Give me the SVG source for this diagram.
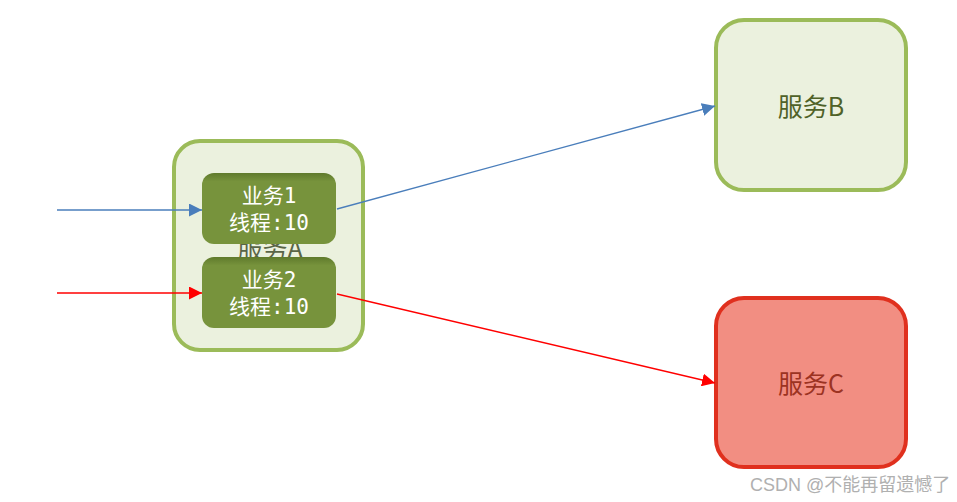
<svg xmlns="http://www.w3.org/2000/svg" width="957" height="502" viewBox="0 0 957 502">
<defs>
<marker id="ab" viewBox="0 0 10 10" refX="10" refY="5" markerWidth="13" markerHeight="13" markerUnits="userSpaceOnUse" orient="auto"><path d="M0,0 L10,5 L0,10 Z" fill="#4a7ebb"/></marker>
<marker id="ar" viewBox="0 0 10 10" refX="10" refY="5" markerWidth="13" markerHeight="13" markerUnits="userSpaceOnUse" orient="auto"><path d="M0,0 L10,5 L0,10 Z" fill="#ff0000"/></marker>
<linearGradient id="gb" x1="0" y1="0" x2="0" y2="1"><stop offset="0" stop-color="#5f7a2c"/><stop offset="0.12" stop-color="#77933c"/><stop offset="1" stop-color="#77933c"/></linearGradient>
</defs>
<style>
.svc{fill:#ebf1de;stroke:#9bbb59;stroke-width:4}
.svcc{fill:#f28e82;stroke:#e0301e;stroke-width:4}
.biz{fill:url(#gb)}
.t{font-family:"Noto Sans CJK SC","Noto Sans",sans-serif;font-size:25px;text-anchor:middle}
.bt{font-family:"DejaVu Sans Mono","Noto Sans CJK SC",monospace;font-size:21px;fill:#ffffff;text-anchor:middle}
.wm{font-family:"Liberation Sans","Noto Sans CJK SC",sans-serif;font-size:18px;fill:#b0b0b0}
</style>
<g id="serviceA">
<rect class="svc" x="174" y="141" width="189" height="209" rx="26"/>
<text class="t" x="270" y="258" fill="#5a6547" font-size="22">服务A</text>
</g>
<g id="biz1">
<rect class="biz" x="202" y="173" width="134" height="71" rx="12"/>
<text class="bt" x="269" y="203">业务1</text>
<text class="bt" x="269" y="230">线程:10</text>
</g>
<g id="biz2">
<rect class="biz" x="202" y="257" width="134" height="71" rx="12"/>
<text class="bt" x="269" y="287">业务2</text>
<text class="bt" x="269" y="314">线程:10</text>
</g>
<g id="serviceB">
<rect class="svc" x="716" y="20" width="190" height="170" rx="28"/>
<text class="t" x="811" y="116" fill="#4f6228">服务B</text>
</g>
<g id="serviceC">
<rect class="svcc" x="716" y="298" width="190" height="169" rx="28"/>
<text class="t" x="811" y="393" fill="#9c3322">服务C</text>
</g>
<g id="connectors" fill="none" stroke-width="1.3">
<line x1="57" y1="210" x2="202" y2="210" stroke="#4a7ebb" marker-end="url(#ab)"/>
<line x1="57" y1="293" x2="202" y2="293" stroke="#ff0000" marker-end="url(#ar)"/>
<line x1="337" y1="209" x2="715" y2="106" stroke="#4a7ebb" marker-end="url(#ab)"/>
<line x1="337" y1="294" x2="715" y2="383" stroke="#ff0000" marker-end="url(#ar)"/>
</g>
<text class="wm" x="750" y="491">CSDN @不能再留遗憾了</text>
</svg>
